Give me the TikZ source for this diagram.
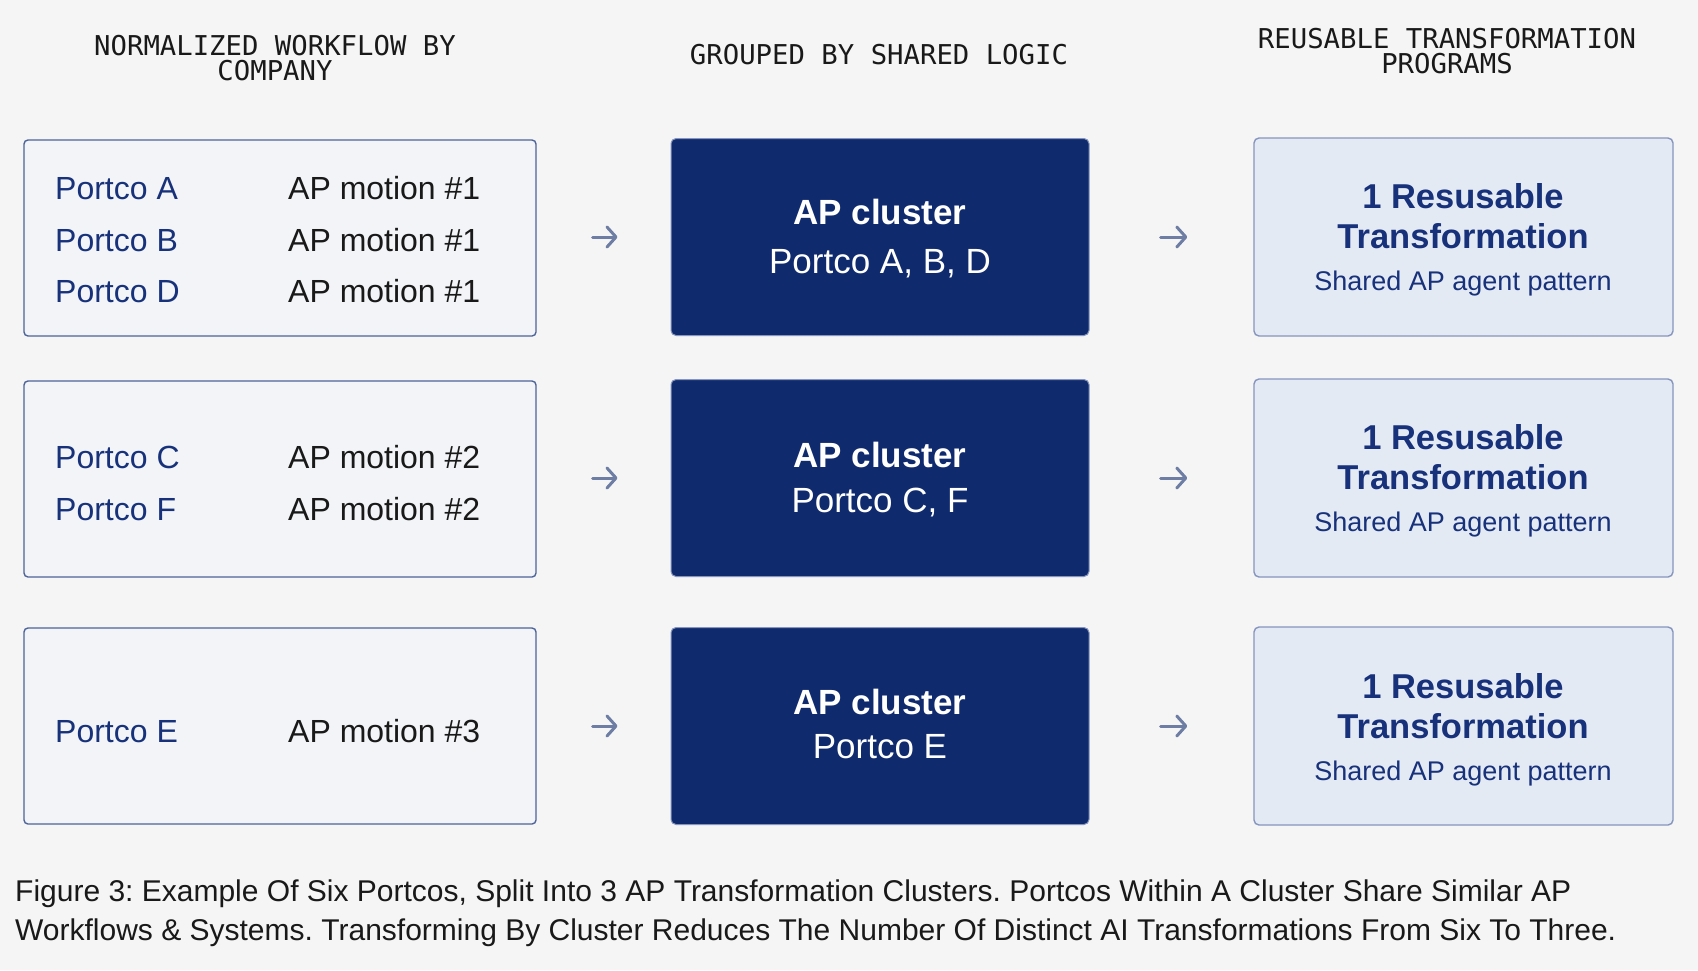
\documentclass[tikz,border=0pt]{standalone}
\usepackage{fontspec}
\setmainfont{Liberation Sans}
\newfontfamily\monof{DejaVu Sans Mono}
\usetikzlibrary{arrows.meta}
\definecolor{bgc}{HTML}{F5F5F5}
\definecolor{leftfill}{HTML}{F2F4F7}
\definecolor{leftdraw}{HTML}{4D6399}
\definecolor{navyfill}{HTML}{102A6E}
\definecolor{rightfill}{HTML}{E4EAF4}
\definecolor{rightdraw}{HTML}{8595BE}
\definecolor{navytext}{HTML}{17317A}
\definecolor{arrc}{HTML}{6E7DA3}
\frenchspacing
\begin{document}
\begin{tikzpicture}[x=1pt,y=-1pt,
  leftbox/.style={draw=leftdraw,fill=leftfill,line width=1.4pt,rounded corners=4pt,minimum width=512pt,minimum height=196pt,inner sep=0pt},
  midbox/.style={draw=rightdraw,fill=navyfill,line width=1pt,rounded corners=5pt,minimum width=418pt,minimum height=197pt,inner sep=0pt},
  rightbox/.style={draw=rightdraw,fill=rightfill,line width=1.4pt,rounded corners=5pt,minimum width=419pt,minimum height=198pt,inner sep=0pt},
  ptc/.style={inner sep=0pt,anchor=base west,text=navytext,font=\fontsize{32}{38}\selectfont},
  apm/.style={inner sep=0pt,anchor=base west,text=black!90,font=\fontsize{32}{38}\selectfont},
  clt/.style={inner sep=0pt,anchor=base,text=white,font=\fontsize{35}{42}\selectfont\bfseries},
  cls/.style={inner sep=0pt,anchor=base,text=white,font=\fontsize{35}{42}\selectfont},
  rtt/.style={inner sep=0pt,anchor=base,text=navytext,font=\fontsize{34.5}{40}\selectfont\bfseries},
  rts/.style={inner sep=0pt,anchor=base,text=navytext,font=\fontsize{27}{32}\selectfont},
  hdr/.style={inner sep=0pt,align=center,text=black!90,font=\fontsize{27.3}{25}\selectfont\monof},
  arr/.style={draw=arrc,line width=3pt,line cap=round,-{Straight Barb[length=9pt,width=20pt,line cap=round,line join=round]}},
  capt/.style={inner sep=0pt,align=left,text=black!90,font=\fontsize{30}{38.5}\selectfont}
]
\fill[bgc] (0,0) rectangle (1698,970);
\useasboundingbox (0,0) rectangle (1698,970);

% headers
\node[hdr] (h1) at (275,58) {NORMALIZED WORKFLOW BY\\COMPANY};
\node[hdr,anchor=base] (h2) at (879,64) {GROUPED BY SHARED LOGIC};
\node[hdr] (h3) at (1447,51) {REUSABLE TRANSFORMATION\\PROGRAMS};

% boxes
\node[leftbox] (l1) at (280,238) {};
\node[leftbox] (l2) at (280,479) {};
\node[leftbox] (l3) at (280,726) {};
\node[midbox] (m1) at (880,237) {};
\node[midbox] (m2) at (880,478) {};
\node[midbox] (m3) at (880,726) {};
\node[rightbox] (r1) at (1463.5,237) {};
\node[rightbox] (r2) at (1463.5,478) {};
\node[rightbox] (r3) at (1463.5,726) {};

% left texts
\node[ptc] (pa) at (55,199) {Portco A};
\node[ptc] (pb) at (55,251) {Portco B};
\node[ptc] (pd) at (55,302) {Portco D};
\node[apm] (ma) at (288,199) {AP motion \#1};
\node[apm] (mb) at (288,251) {AP motion \#1};
\node[apm] (md) at (288,302) {AP motion \#1};
\node[ptc] (pc) at (55,468) {Portco C};
\node[ptc] (pf) at (55,520) {Portco F};
\node[apm] (mc) at (288,468) {AP motion \#2};
\node[apm] (mf) at (288,520) {AP motion \#2};
\node[ptc] (pe) at (55,742) {Portco E};
\node[apm] (me) at (288,742) {AP motion \#3};

% middle texts
\node[clt] (c1a) at (880,224) {AP cluster};
\node[cls] (c1b) at (880,273) {Portco A, B, D};
\node[clt] (c2a) at (880,467) {AP cluster};
\node[cls] (c2b) at (880,512) {Portco C, F};
\node[clt] (c3a) at (880,714) {AP cluster};
\node[cls] (c3b) at (880,758) {Portco E};

% right texts
\foreach \i/\yy in {1/0,2/241,3/490}{
  \node[rtt] (rt\i a) at (1463,208+\yy) {1 Resusable};
  \node[rtt] (rt\i b) at (1463,248+\yy) {Transformation};
  \node[rts] (rt\i c) at (1463,290+\yy) {Shared AP agent pattern};
}

% arrows
\foreach \i in {1,2,3}{
  \draw[arr,shorten <=56pt,shorten >=53pt] (l\i.east |- m\i) -- (m\i.west);
  \draw[arr,shorten <=71pt,shorten >=66pt] (m\i.east) -- (r\i.west);
}

% caption
\node[capt,anchor=north west] (cap) at (15,880) {Figure 3: Example Of Six Portcos, Split Into 3 AP Transformation Clusters. Portcos Within A Cluster Share Similar AP\\Workflows \& Systems. Transforming By Cluster Reduces The Number Of Distinct AI Transformations From Six To Three.};
\end{tikzpicture}
\end{document}
